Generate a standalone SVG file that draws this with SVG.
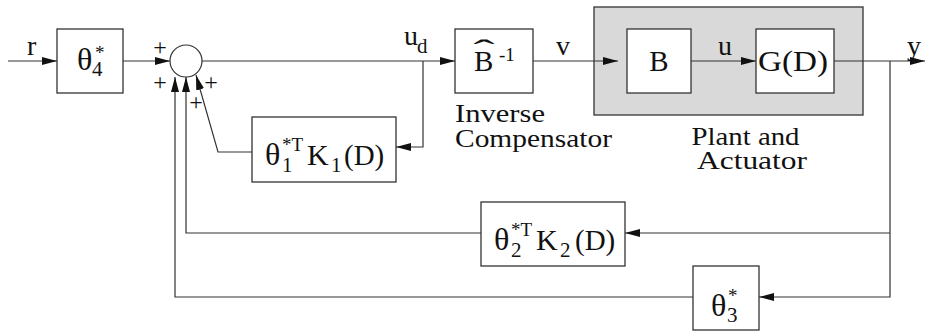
<svg xmlns="http://www.w3.org/2000/svg" width="926" height="331" viewBox="0 0 926 331">
<defs>
<style>
.box{fill:#fff;stroke:#333;stroke-width:1.3}
.wire{fill:none;stroke:#333;stroke-width:1.2}
.t{font-family:"Liberation Serif","Times New Roman",serif;fill:#111}
.m{font-size:29px}
.th{font-size:32px}
.sb{font-size:21px}
.sp{font-size:19px}
.lbl{font-size:28px}
.pl{font-size:24px}
.cap{font-size:26px}
</style>
<marker id="ah" markerUnits="userSpaceOnUse" markerWidth="15" markerHeight="8" refX="15" refY="4" orient="auto">
<path d="M0,0 L15,4 L0,8 z" fill="#111"/>
</marker>
</defs>
<rect width="926" height="331" fill="#fff"/>

<g id="plant">
<rect x="594" y="7" width="269" height="108" fill="#d9d9d9" stroke="#333" stroke-width="1.3"/>
<text class="t cap" font-family="Liberation Serif, serif" x="691.5" y="145" textLength="108" lengthAdjust="spacingAndGlyphs">Plant and</text>
<text class="t cap" font-family="Liberation Serif, serif" x="697" y="169" textLength="110" lengthAdjust="spacingAndGlyphs">Actuator</text>
</g>

<g id="connectors">
<path class="wire" d="M8,61 H57" marker-end="url(#ah)"/>
<path class="wire" d="M123,61 H170" marker-end="url(#ah)"/>
<path class="wire" d="M202,61 H455" marker-end="url(#ah)"/>
<path class="wire" d="M423,61 V147 H396" marker-end="url(#ah)"/>
<path class="wire" d="M252,152 H218 L196,75" marker-end="url(#ah)"/>
<path class="wire" d="M533,61 H618" marker-end="url(#ah)"/>
<path class="wire" d="M691,61 H756" marker-end="url(#ah)"/>
<path class="wire" d="M834,61 H925" marker-end="url(#ah)"/>
<path class="wire" d="M890,61 V297 H759" marker-end="url(#ah)"/>
<path class="wire" d="M890,233 H625" marker-end="url(#ah)"/>
<path class="wire" d="M481,233 H186 V77" marker-end="url(#ah)"/>
<path class="wire" d="M693,297 H175 V77" marker-end="url(#ah)"/>
<text class="t lbl" x="27" y="55">r</text>
<text class="t lbl" x="404" y="45">u<tspan class="sb" x="417" y="53">d</tspan></text>
<text class="t lbl" x="556" y="55">v</text>
<text class="t lbl" x="718" y="55">u</text>
<text class="t lbl" x="907" y="55">y</text>
</g>

<g id="theta4">
<rect class="box" x="57" y="29" width="66" height="64"/>
<text class="t th" x="77" y="70">θ<tspan class="sb" x="92" y="76">4</tspan><tspan class="sp" x="95" y="59">*</tspan></text>
</g>

<g id="sum">
<circle cx="186" cy="61" r="16" fill="#fff" stroke="#333" stroke-width="1.2"/>
<text class="t pl" x="160" y="55" text-anchor="middle">+</text>
<text class="t pl" x="160" y="90" text-anchor="middle">+</text>
<text class="t pl" x="211" y="90" text-anchor="middle">+</text>
<text class="t pl" x="196" y="110" text-anchor="middle">+</text>
</g>

<g id="k1">
<rect class="box" x="252" y="117" width="144" height="65"/>
<text class="t th" x="265" y="165">θ<tspan class="sb" x="282" y="172">1</tspan><tspan class="sp" x="282" y="151">*T</tspan><tspan class="m" x="307" y="165" style="font-size:30px">K</tspan><tspan class="sb" x="331" y="172">1</tspan><tspan class="m" x="344" y="165">(D)</tspan></text>
</g>

<g id="binv">
<rect class="box" x="455" y="29" width="78" height="64"/>
<text class="t m" x="474" y="71">B<tspan class="sp" x="499" y="61">-1</tspan></text>
<text class="t" style="font-size:30px" text-anchor="middle" transform="translate(484 60) scale(2.1 1)">ˆ</text>
<text class="t cap" font-family="Liberation Serif, serif" x="455" y="122" textLength="90" lengthAdjust="spacingAndGlyphs">Inverse</text>
<text class="t cap" font-family="Liberation Serif, serif" x="455" y="147" textLength="157" lengthAdjust="spacingAndGlyphs">Compensator</text>
</g>

<g id="b">
<rect class="box" x="627" y="29" width="64" height="64"/>
<text class="t m" x="659" y="71" text-anchor="middle">B</text>
</g>

<g id="g">
<rect class="box" x="756" y="29" width="78" height="64"/>
<text class="t m" x="793" y="71" text-anchor="middle" textLength="70" lengthAdjust="spacingAndGlyphs">G(D)</text>
</g>

<g id="k2">
<rect class="box" x="481" y="202" width="144" height="64"/>
<text class="t th" x="494" y="250">θ<tspan class="sb" x="511" y="257">2</tspan><tspan class="sp" x="511" y="236">*T</tspan><tspan class="m" x="536" y="250" style="font-size:30px">K</tspan><tspan class="sb" x="560" y="257">2</tspan><tspan class="m" x="575" y="250">(D)</tspan></text>
</g>

<g id="theta3">
<rect class="box" x="693" y="266" width="66" height="64"/>
<text class="t th" x="711" y="316">θ<tspan class="sb" x="727" y="322">3</tspan><tspan class="sp" x="728" y="302">*</tspan></text>
</g>
</svg>
